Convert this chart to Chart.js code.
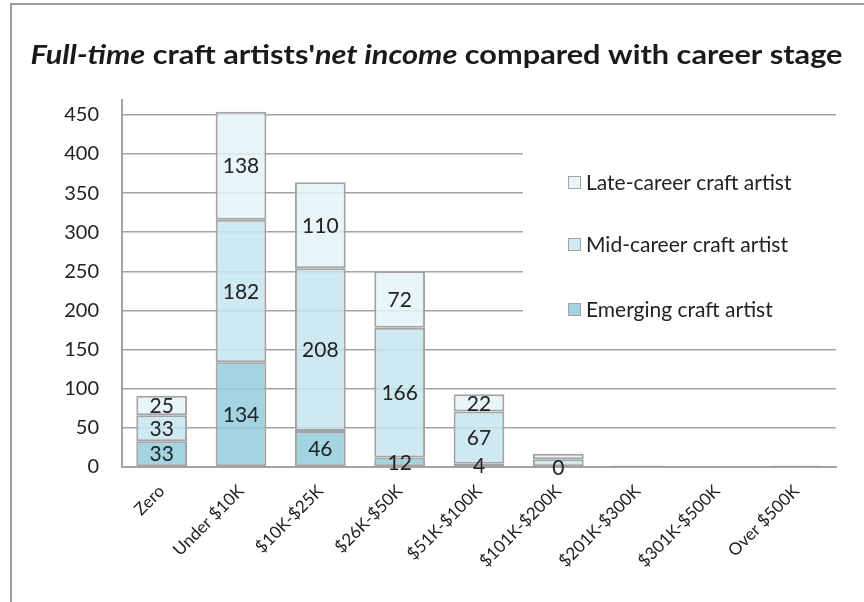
<!DOCTYPE html>
<html>
<head>
<meta charset="utf-8">
<script src="https://cdn.jsdelivr.net/npm/chart.js@4.4.0/dist/chart.umd.min.js"></script>
<style>
  body { margin: 0; background: #fff; }
  #wrap { width: 864px; height: 602px; position: relative; }
</style>
</head>
<body>
<div id="wrap"><canvas id="incomeChart" width="864" height="602"></canvas></div>
<script>
// income bands on the x axis
const categories = [
    "Zero",
    "Under $10K",
    "$10K-$25K",
    "$26K-$50K",
    "$51K-$100K",
    "$101K-$200K",
    "$201K-$300K",
    "$301K-$500K",
    "Over $500K",
];

// number of artists per band, by career stage
const emerging = [33, 134, 46, 12, 4, 0, 0, 0, 0];
const midCareer = [33, 182, 208, 166, 67, 10, 1, 0, 1];
const lateCareer = [25, 138, 110, 72, 22, 7, 1, 1, 1];

const yTicks = [0, 50, 100, 150, 200, 250, 300, 350, 400, 450];

const FONT = "Lato, 'Open Sans', sans-serif";
const GREY = "#a3a3a3";

const colours = {
    emerging: "rgba(146, 205, 221, 0.85)",
    mid: "rgba(197, 229, 238, 0.85)",
    late: "rgba(228, 243, 248, 0.85)",
};

// the tiny bars on the right only carry a label for the emerging "0"
function showLabel(datasetIndex, i) {
    if (i < 5) return true;
    return i === 5 && datasetIndex === 0;
}

// grey frame round the whole chart (top and left edges show)
const framePlugin = {
    id: "frame",
    beforeDraw(chart) {
        const ctx = chart.ctx;
        ctx.save();
        ctx.strokeStyle = "#9c9c9c";
        ctx.lineWidth = 2;
        ctx.beginPath();
        ctx.moveTo(11, 602);
        ctx.lineTo(11, 4);
        ctx.lineTo(864, 4);
        ctx.stroke();
        ctx.restore();
    },
};

// numbers written in the middle of each stacked segment
const valueLabelPlugin = {
    id: "valueLabels",
    afterDatasetsDraw(chart) {
        const ctx = chart.ctx;
        ctx.save();
        ctx.font = "21px " + FONT;
        ctx.fillStyle = "#222";
        ctx.textAlign = "center";
        ctx.textBaseline = "middle";
        chart.data.datasets.forEach((ds, di) => {
            const meta = chart.getDatasetMeta(di);
            meta.data.forEach((bar, i) => {
                if (!showLabel(di, i)) return;
                const y = (bar.y + bar.base) / 2;
                ctx.fillText(String(ds.data[i]), bar.x, y + 1);
            });
        });
        ctx.restore();
    },
};

// legend sits inside the plot on a white patch
const legendPlugin = {
    id: "legendBox",
    afterDraw(chart) {
        const ctx = chart.ctx;
        const area = chart.chartArea;
        ctx.save();
        ctx.fillStyle = "#fff";
        ctx.fillRect(523, 128, area.right - 523 + 1, 206);
        const items = [
            ["Late-career craft artist", colours.late, 182],
            ["Mid-career craft artist", colours.mid, 244],
            ["Emerging craft artist", colours.emerging, 309],
        ];
        ctx.font = "21px " + FONT;
        ctx.textBaseline = "middle";
        ctx.textAlign = "left";
        items.forEach(([text, fill, y]) => {
            ctx.fillStyle = fill;
            ctx.fillRect(568, y - 6, 13, 13);
            ctx.strokeStyle = GREY;
            ctx.lineWidth = 1;
            ctx.strokeRect(568.5, y - 5.5, 12, 12);
            ctx.fillStyle = "#222";
            ctx.fillText(text, 586, y + 1);
        });
        ctx.restore();
    },
};

// title with italic runs, fitted to the frame width
const titlePlugin = {
    id: "titleText",
    afterDraw(chart) {
        const ctx = chart.ctx;
        const parts = [
            ["Full-time", "italic bold"],
            [" craft artists'", "bold"],
            ["net income", "italic bold"],
            [" compared with career stage", "bold"],
        ];
        const size = 27;
        ctx.save();
        let total = 0;
        parts.forEach((p) => {
            ctx.font = p[1] + " " + size + "px " + FONT;
            total += ctx.measureText(p[0]).width;
        });
        const target = 812;
        const sx = target / total;
        ctx.translate(436.5 - (total * sx) / 2, 64);
        ctx.scale(sx, 1);
        ctx.fillStyle = "#1a1a1a";
        ctx.textBaseline = "alphabetic";
        let x = 0;
        parts.forEach((p) => {
            ctx.font = p[1] + " " + size + "px " + FONT;
            ctx.fillText(p[0], x, 0);
            x += ctx.measureText(p[0]).width;
        });
        ctx.restore();
    },
};

function makeSet(label, data, colour) {
    return {
        label: label,
        data: data,
        backgroundColor: colour,
        borderColor: GREY,
        borderWidth: 2,
        borderSkipped: false,
        barPercentage: 0.64,
        categoryPercentage: 1,
    };
}

const config = {
    type: "bar",
    data: {
        labels: categories,
        datasets: [
            makeSet("Emerging craft artist", emerging, colours.emerging),
            makeSet("Mid-career craft artist", midCareer, colours.mid),
            makeSet("Late-career craft artist", lateCareer, colours.late),
        ],
    },
    options: {
        responsive: false,
        animation: false,
        layout: { padding: { top: 100, right: 28, left: 0, bottom: 0 } },
        plugins: {
            legend: { display: false },
            title: { display: false },
            tooltip: { enabled: false },
        },
        scales: {
            x: {
                stacked: true,
                afterFit: (s) => { s.height = 135; },
                grid: { display: false },
                border: { color: GREY, width: 2 },
                ticks: {
                    color: "#222",
                    font: { family: FONT, size: 17 },
                    minRotation: 45,
                    maxRotation: 45,
                    padding: 6,
                },
            },
            y: {
                stacked: true,
                min: 0,
                max: 469,
                afterFit: (s) => { s.width = 122; },
                afterBuildTicks: (s) => {
                    s.ticks = yTicks.map((v) => ({ value: v }));
                },
                grid: { color: GREY, lineWidth: 1.5, drawTicks: false },
                border: { color: GREY, width: 2 },
                ticks: {
                    color: "#222",
                    font: { family: FONT, size: 20 },
                    padding: 23,
                },
            },
        },
    },
    plugins: [framePlugin, valueLabelPlugin, legendPlugin, titlePlugin],
};

new Chart(document.getElementById("incomeChart"), config);
</script>
</body>
</html>
